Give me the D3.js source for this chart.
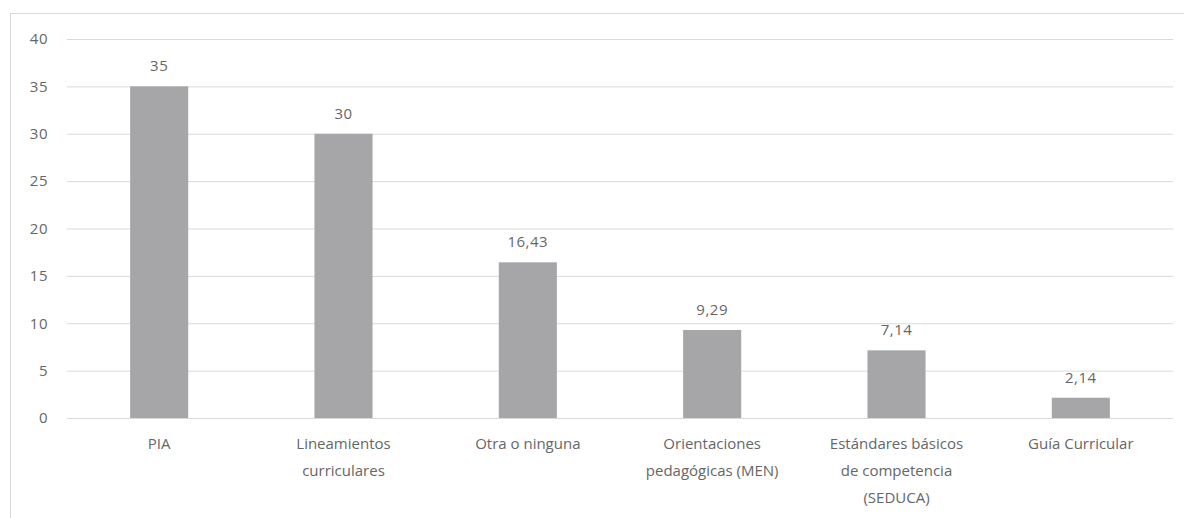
<!DOCTYPE html>
<html><head><meta charset="utf-8">
<script src="https://cdn.jsdelivr.net/npm/d3@7"></script>
<style>body{margin:0;background:#fff}svg{display:block}text{font-family:"Open Sans",sans-serif}</style>
</head><body><svg id="c" width="1184" height="518"></svg>
<script>
const categories = [["PIA"],["Lineamientos","curriculares"],["Otra o ninguna"],["Orientaciones","pedagógicas (MEN)"],["Estándares básicos","de competencia","(SEDUCA)"],["Guía Curricular"]];
const values = [35,30,16.43,9.29,7.14,2.14];
const valueLabels = ["35","30","16,43","9,29","7,14","2,14"];
const yTicks = [0,5,10,15,20,25,30,35,40];

const svg = d3.select("#c");
const m = {l:67, r:1173, t:39, b:418};
const txt = "#666666";
svg.append("rect").attr("x",10.5).attr("y",13.5).attr("width",1200).attr("height",600)
  .attr("fill","none").attr("stroke","#d9d9d9").attr("stroke-width",1);

const x = d3.scaleBand().domain(d3.range(categories.length)).range([m.l,m.r]).paddingInner(0.685).paddingOuter(0.3425);
const y = d3.scaleLinear().domain([0,40]).range([m.b,m.t]);

const yAxis = d3.axisLeft(y).tickValues(yTicks).tickSize(-(m.r-m.l)).tickPadding(19);
const gy = svg.append("g").attr("transform",`translate(${m.l},0)`).call(yAxis);
gy.select(".domain").remove();
gy.selectAll(".tick line").attr("stroke","#d9d9d9");
gy.selectAll(".tick text").attr("fill",txt).style("font-size","15px").style("letter-spacing","0.5px");

svg.append("g").selectAll("rect").data(values).join("rect")
  .attr("x",(d,i)=>x(i)).attr("width",x.bandwidth())
  .attr("y",d=>y(d)).attr("height",d=>y(0)-y(d)).attr("fill","#a6a6a8");

svg.append("g").selectAll("text").data(values).join("text")
  .attr("x",(d,i)=>x(i)+x.bandwidth()/2).attr("y",d=>y(d)-15)
  .attr("text-anchor","middle").attr("fill",txt).style("font-size","15px").style("letter-spacing","0.5px")
  .text((d,i)=>valueLabels[i]);

const cl = svg.append("g").selectAll("text").data(categories).join("text")
  .attr("x",(d,i)=>x(i)+x.bandwidth()/2).attr("y",449)
  .attr("text-anchor","middle").attr("fill",txt).style("font-size","15px");
cl.selectAll("tspan").data(d=>d).join("tspan")
  .attr("x",function(){return this.parentNode.getAttribute("x");})
  .attr("dy",(d,i)=>i===0?0:27).text(d=>d);
</script></body></html>
